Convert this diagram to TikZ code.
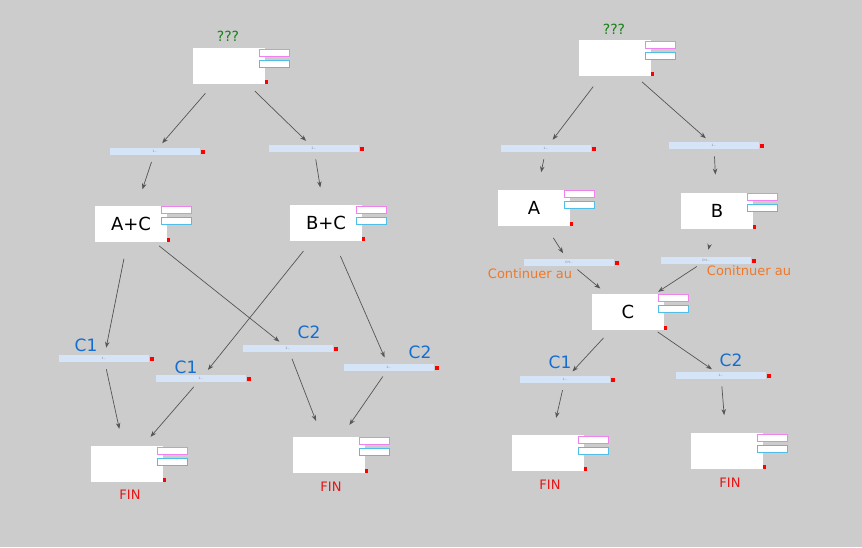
\documentclass[tikz,border=0pt]{standalone}
\usepackage{fontspec}
\setmainfont{DejaVu Sans}
\usetikzlibrary{arrows.meta}
\definecolor{bg}{RGB}{204,204,204}
\definecolor{barfill}{RGB}{214,228,248}
\definecolor{pinkb}{RGB}{240,130,240}
\definecolor{cyanb}{RGB}{80,190,230}
\definecolor{lblue}{RGB}{20,110,210}
\definecolor{lorange}{RGB}{240,120,40}
\definecolor{lgreen}{RGB}{20,130,20}
\definecolor{lred}{RGB}{230,20,20}
\definecolor{arrc}{RGB}{85,85,85}
\tikzset{
  bx/.style={fill=white, minimum width=72pt, minimum height=36pt, inner sep=0pt, font=\fontsize{18}{20}\selectfont},
  lk/.style={fill=barfill, minimum width=90pt, minimum height=7pt, inner sep=0pt, font=\fontsize{3}{3}\selectfont, text=gray},
  clab/.style={font=\fontsize{17}{19}\selectfont, text=lblue, inner sep=0pt},
  olab/.style={font=\fontsize{13}{15}\selectfont, text=lorange, inner sep=0pt},
  qlab/.style={font=\fontsize{14}{16}\selectfont, text=lgreen, inner sep=0pt},
  flab/.style={font=\fontsize{13}{15}\selectfont, text=lred, inner sep=0pt},
  arrbase/.style={draw=arrc, line width=0.7pt, -{Stealth[length=6pt,width=4.5pt]}},
  b2l/.style={arrbase, shorten <=36pt, shorten >=11pt},
  l2b/.style={arrbase, shorten <=11pt, shorten >=36pt},
  b2b/.style={arrbase, shorten <=36pt, shorten >=11pt},
}
\newcommand\boxdeco[1]{%
  \draw[draw=pinkb, fill=white, line width=0.8pt] ([xshift=-6pt,yshift=-1.5pt]#1.north east) rectangle ++(30,7);
  \draw[draw=cyanb, fill=white, line width=0.8pt] ([xshift=-6pt,yshift=-12.5pt]#1.north east) rectangle ++(30,7);
  \fill[red] (#1.south east) rectangle ++(3,-4);
}
\newcommand\linkdeco[1]{%
  \fill[red] ([xshift=1pt,yshift=2pt]#1.east) rectangle ++(4,4);
}
\begin{document}
\begin{tikzpicture}[x=1pt,y=-1pt]
\fill[bg] (0,0) rectangle (862,547);
\useasboundingbox (0,0) rectangle (862,547);

% ---------- left diagram ----------
\node[bx] (top1) at (229,66) {};
\node[qlab] (q1) at (228,36) {???};
\node[lk] (l1) at (155,151.5) {1...};
\node[lk] (l2) at (314,148.5) {2...};
\node[bx] (ac) at (131,223.5) {A+C};
\node[bx] (bc) at (326,223) {B+C};
\node[lk] (c1a) at (104,358.5) {1...};
\node[lk] (c1b) at (201,378.5) {1...};
\node[lk] (c2a) at (288,348.5) {2...};
\node[lk] (c2b) at (389,367.5) {2...};
\node[clab] (t1) at (86,345) {C1};
\node[clab] (t2) at (186,367) {C1};
\node[clab] (t3) at (309,332) {C2};
\node[clab] (t4) at (420,352) {C2};
\node[bx] (f1) at (127,464) {};
\node[bx] (f2) at (329,454.5) {};
\node[flab] (fin1) at (130,495) {FIN};
\node[flab] (fin2) at (331,487) {FIN};

\foreach \n in {top1,ac,bc,f1,f2} {\boxdeco{\n}}
\foreach \n in {l1,l2,c1a,c1b,c2a,c2b} {\linkdeco{\n}}

\draw[b2l] (top1.center) -- (l1.center);
\draw[b2l] (top1.center) -- (l2.center);
\draw[l2b] (l1.center) -- (ac.center);
\draw[l2b] (l2.center) -- (bc.center);
\draw[b2l] (ac.center) -- (c1a.center);
\draw[b2l] (ac.center) -- (c2a.center);
\draw[b2l] (bc.center) -- (c1b.center);
\draw[b2l] (bc.center) -- (c2b.center);
\draw[l2b] (c1a.center) -- (f1.center);
\draw[l2b] (c1b.center) -- (f1.center);
\draw[l2b] (c2a.center) -- (f2.center);
\draw[l2b] (c2b.center) -- (f2.center);

% ---------- right diagram ----------
\node[bx] (top2) at (615,58) {};
\node[qlab] (q2) at (614,29) {???};
\node[lk] (r1) at (546,148.5) {1...};
\node[lk] (r2) at (714,145.5) {1...};
\node[bx] (a) at (534,207.5) {A};
\node[bx] (b) at (717,210.5) {B};
\node[lk] (ch1) at (569,262.5) {CH...};
\node[lk] (ch2) at (706,260.5) {CH...};
\node[olab] (o1) at (530,274) {Continuer au};
\node[olab] (o2) at (749,271) {Conitnuer au};
\node[bx] (c) at (628,311.5) {C};
\node[lk] (rc1) at (565,379.5) {1...};
\node[lk] (rc2) at (721,375.5) {1...};
\node[clab] (t5) at (560,362) {C1};
\node[clab] (t6) at (731,360) {C2};
\node[bx] (f3) at (548,453) {};
\node[bx] (f4) at (727,451) {};
\node[flab] (fin3) at (550,485) {FIN};
\node[flab] (fin4) at (730,483) {FIN};

\foreach \n in {top2,a,b,c,f3,f4} {\boxdeco{\n}}
\foreach \n in {r1,r2,ch1,ch2,rc1,rc2} {\linkdeco{\n}}

\draw[b2l] (top2.center) -- (r1.center);
\draw[b2l] (top2.center) -- (r2.center);
\draw[l2b] (r1.center) -- (a.center);
\draw[l2b] (r2.center) -- (b.center);
\draw[b2l] (a.center) -- (ch1.center);
\draw[b2l] (b.center) -- (ch2.center);
\draw[l2b] (ch1.center) -- (c.center);
\draw[l2b] (ch2.center) -- (c.center);
\draw[b2l] (c.center) -- (rc1.center);
\draw[b2l] (c.center) -- (rc2.center);
\draw[l2b] (rc1.center) -- (f3.center);
\draw[l2b] (rc2.center) -- (f4.center);
\end{tikzpicture}
\end{document}
